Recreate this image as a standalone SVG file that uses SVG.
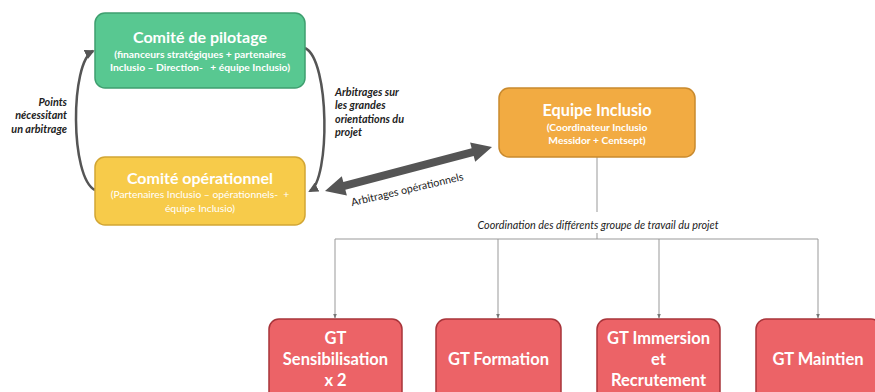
<svg xmlns="http://www.w3.org/2000/svg" width="875" height="392" viewBox="0 0 875 392">
<defs>
<style>
text{font-family:"Lato","Open Sans","Liberation Sans",sans-serif;}
.box{stroke-width:1.5;}
.green{fill:#58C891;stroke:#3E9F6F;}
.yellow{fill:#F7CB4A;stroke:#D2A634;}
.orange{fill:#F2AB42;stroke:#C98A2E;}
.red{fill:#EC6367;stroke:#A8343A;}
.title{fill:#fff;font-weight:bold;text-anchor:middle;}
.sub{fill:#fff;font-size:10.3px;text-anchor:middle;white-space:pre;}
.gt{fill:#fff;font-weight:bold;font-size:16.5px;text-anchor:middle;}
.lbl{fill:#222;font-style:italic;font-size:10.8px;}
.curve{fill:none;stroke:#555;stroke-width:2.5;}
.thin{fill:none;stroke:#999;stroke-width:1;}
</style>
<marker id="ah" viewBox="0 0 10 10" refX="8" refY="5" markerWidth="4" markerHeight="4" orient="auto">
<path d="M0,0 L10,5 L0,10 z" fill="#555"/>
</marker>
<marker id="sh" viewBox="0 0 10 10" refX="9" refY="5" markerWidth="5" markerHeight="5" orient="auto" markerUnits="userSpaceOnUse">
<path d="M0,1 L10,5 L0,9 z" fill="#777"/>
</marker>
</defs>
<rect width="875" height="392" fill="#fff"/>

<g id="connectors">
<path class="curve" d="M95,190 C70,178 70,62 93,51" marker-end="url(#ah)"/>
<path class="curve" d="M305,48 C330,60 330,180 310,191" marker-end="url(#ah)"/>
<path d="M0,0 L20,-10 L20,-4 L152.7,-4 L152.7,-10 L172.7,0 L152.7,10 L152.7,4 L20,4 L20,10 Z" fill="#555" transform="translate(325,191) rotate(-14.76)"/>
<line class="thin" x1="597" y1="157" x2="597" y2="212"/>
<line class="thin" x1="597" y1="233" x2="597" y2="239"/>
<line class="thin" x1="335" y1="239" x2="818" y2="239"/>
<line class="thin" x1="335" y1="239" x2="335" y2="318" marker-end="url(#sh)"/>
<line class="thin" x1="498" y1="239" x2="498" y2="318" marker-end="url(#sh)"/>
<line class="thin" x1="659" y1="239" x2="659" y2="318" marker-end="url(#sh)"/>
<line class="thin" x1="818" y1="239" x2="818" y2="318" marker-end="url(#sh)"/>
<text class="lbl" text-anchor="end" font-weight="bold"><tspan x="67" y="105.5">Points</tspan><tspan x="67" y="119">nécessitant</tspan><tspan x="67" y="132.5">un arbitrage</tspan></text>
<text class="lbl" font-weight="bold"><tspan x="335" y="96">Arbitrages sur</tspan><tspan x="335" y="109">les grandes</tspan><tspan x="335" y="122.5">orientations du</tspan><tspan x="335" y="136">projet</tspan></text>
<text fill="#222" font-size="10.7" text-anchor="middle" transform="translate(408,193) rotate(-13.2)">Arbitrages opérationnels</text>
<text class="lbl" x="598" y="228.5" text-anchor="middle" font-size="10.4">Coordination des différents groupe de travail du projet</text>
</g>

<g id="comite-pilotage">
<rect class="box green" x="95" y="13" width="210" height="75" rx="10"/>
<text class="title" x="200" y="43" font-size="16">Comité de pilotage</text>
<text class="sub" font-weight="bold"><tspan x="200" y="57.5">(financeurs stratégiques + partenaires</tspan><tspan x="200" y="70.5">Inclusio – Direction-   + équipe Inclusio)</tspan></text>
</g>

<g id="comite-operationnel">
<rect class="box yellow" x="95" y="157" width="210" height="68" rx="10"/>
<text class="title" x="200" y="184" font-size="16">Comité opérationnel</text>
<text class="sub"><tspan x="200" y="198">(Partenaires Inclusio – opérationnels-  +</tspan><tspan x="200" y="212">équipe Inclusio)</tspan></text>
</g>

<g id="equipe-inclusio">
<rect class="box orange" x="499" y="88" width="196" height="69" rx="10"/>
<text class="title" x="597" y="116" font-size="16.3">Equipe Inclusio</text>
<text class="sub" font-weight="bold"><tspan x="597" y="130.5">(Coordinateur Inclusio</tspan><tspan x="597" y="143.5">Messidor + Centsept)</tspan></text>
</g>

<g id="gt-sensibilisation">
<rect class="box red" x="269" y="319" width="133" height="85" rx="10"/>
<text class="gt"><tspan x="335.5" y="344">GT</tspan><tspan x="335.5" y="365">Sensibilisation</tspan><tspan x="335.5" y="385.5">x 2</tspan></text>
</g>
<g id="gt-formation">
<rect class="box red" x="436" y="319" width="125" height="85" rx="10"/>
<text class="gt" x="498.5" y="365">GT Formation</text>
</g>
<g id="gt-immersion">
<rect class="box red" x="597" y="319" width="123" height="85" rx="10"/>
<text class="gt"><tspan x="658.5" y="344">GT Immersion</tspan><tspan x="658.5" y="365">et</tspan><tspan x="658.5" y="385.5">Recrutement</tspan></text>
</g>
<g id="gt-maintien">
<rect class="box red" x="756" y="319" width="125" height="85" rx="10"/>
<text class="gt" x="818" y="365">GT Maintien</text>
</g>
</svg>
